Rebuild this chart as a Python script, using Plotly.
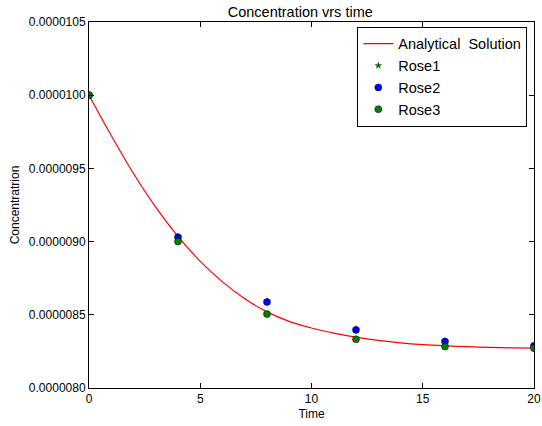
import plotly.graph_objects as go

# Analytical solution
t_curve = list(range(0, 21))
c_curve = [10.000, 9.725, 9.465, 9.235, 9.035, 8.865, 8.725, 8.610, 8.520, 8.455,
           8.410, 8.375, 8.347, 8.325, 8.308, 8.296, 8.288, 8.282, 8.277, 8.274, 8.272]
c_curve = [v * 1e-6 for v in c_curve]

# Measurements
t_pts = [0, 4, 8, 12, 16, 20]
rose1 = [10.000, 9.035, 8.592, 8.402, 8.322, 8.290]
rose2 = [10.000, 9.030, 8.587, 8.397, 8.317, 8.288]
rose3 = [10.000, 9.000, 8.505, 8.333, 8.283, 8.272]
rose1 = [v * 1e-6 for v in rose1]
rose2 = [v * 1e-6 for v in rose2]
rose3 = [v * 1e-6 for v in rose3]

x_ticks = [0, 5, 10, 15, 20]
y_ticks = [8.0e-6, 8.5e-6, 9.0e-6, 9.5e-6, 10.0e-6, 10.5e-6]
y_labels = ["0.0000080", "0.0000085", "0.0000090", "0.0000095", "0.0000100", "0.0000105"]

FONT = "Liberation Sans, Arial, sans-serif"

fig = go.Figure()
fig.add_trace(go.Scatter(x=t_curve, y=c_curve, mode="lines", name="Analytical  Solution",
                         line=dict(color="#ff0000", width=1.2, shape="spline")))
fig.add_trace(go.Scatter(x=t_pts, y=rose1, mode="markers", name="Rose1",
                         marker=dict(symbol="star", size=5, color="#008000",
                                     line=dict(color="black", width=0.3))))
fig.add_trace(go.Scatter(x=t_pts, y=rose2, mode="markers", name="Rose2",
                         marker=dict(symbol="circle", size=7, color="#0000ff",
                                     line=dict(color="black", width=0.5))))
fig.add_trace(go.Scatter(x=t_pts, y=rose3, mode="markers", name="Rose3",
                         marker=dict(symbol="circle", size=7, color="#008000",
                                     line=dict(color="black", width=0.5))))

axis_common = dict(showgrid=False, zeroline=False, showline=True, linecolor="black",
                   linewidth=1, mirror="ticks", ticks="inside", ticklen=5,
                   tickcolor="black", tickwidth=1, automargin=False,
                   tickfont=dict(family=FONT, size=12, color="black"))

fig.update_layout(
    width=542, height=426,
    margin=dict(l=89, r=8, t=22, b=38),
    paper_bgcolor="white", plot_bgcolor="white",
    font=dict(family=FONT, size=12, color="black"),
    title=dict(text="Concentration vrs time", x=0.554, xanchor="center", y=0.972, yanchor="middle",
               font=dict(family=FONT, size=14.5, color="black")),
    xaxis=dict(range=[0, 20], tickvals=x_ticks, ticktext=[str(v) for v in x_ticks],
               title=dict(text="Time", font=dict(family=FONT, size=12), standoff=4),
               **axis_common),
    yaxis=dict(range=[8.0e-6, 10.5e-6], tickvals=y_ticks, ticktext=y_labels,
               title=dict(text="Concentratrion", font=dict(family=FONT, size=12), standoff=6),
               **axis_common),
    legend=dict(x=0.985, y=0.987, xanchor="right", yanchor="top",
                bgcolor="white", bordercolor="black", borderwidth=1,
                font=dict(family=FONT, size=14.5, color="black"),
                tracegroupgap=0, itemwidth=30),
    showlegend=True,
)

fig.write_html("out.html")
